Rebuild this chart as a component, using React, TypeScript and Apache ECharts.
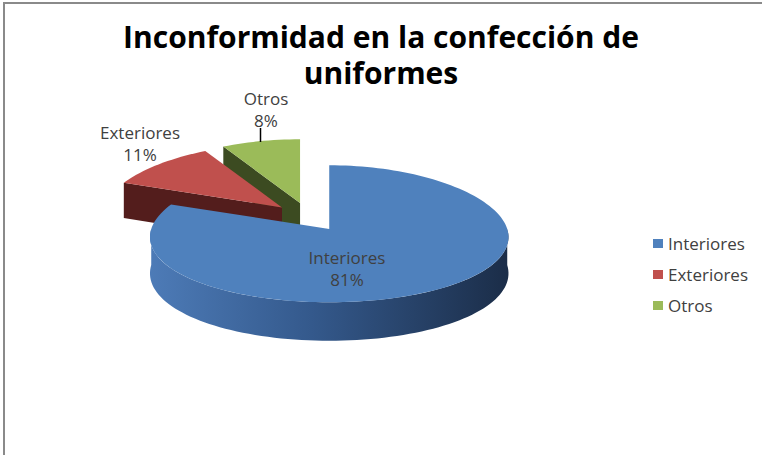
import React, { useEffect, useRef } from "react";
import * as echarts from "echarts";

// ---- data ----
const categories = ["Interiores", "Exteriores", "Otros"];
const percentages = [81, 11, 8];
const titleLines = ["Inconformidad en la confección de", "uniformes"];

// ---- styles / layout ----
const topColors = ["#4F81BD", "#C0504D", "#9BBB59"];
const sideColors: any[] = [
  new echarts.graphic.LinearGradient(0, 0, 1, 0, [
    { offset: 0, color: "#4D7BB7" },
    { offset: 0.45, color: "#34598C" },
    { offset: 1, color: "#1B2D48" },
  ]),
  "#531D1C",
  "#3C4B21",
];
const PIE = { cx: 309, cy: 217, rx: 178, ry: 68.5, perspY: 0.07, perspX: 0.12, h: 36, explodeX: 36, explodeY: 14.5 };
const LABEL_POS: Record<string, [number, number]> = {
  Interiores: [347, 268],
  Exteriores: [140, 143],
  Otros: [266, 109],
};
const FONT = "'Open Sans', sans-serif";

const total = percentages.reduce((a, b) => a + b, 0);

function rim(ax: number, ay: number, th: number, dy = 0): number[] {
  const c = Math.cos(th);
  const s = Math.sin(th);
  const fx = 1 - PIE.perspX * c;
  const fy = 1 - PIE.perspY * c;
  return [ax + s * PIE.rx * fx, ay - c * PIE.ry * fy + dy * fy];
}

function arcPts(ax: number, ay: number, a: number, b: number, dy = 0): number[][] {
  const n = Math.max(4, Math.ceil(((b - a) / (Math.PI * 2)) * 180));
  const pts: number[][] = [];
  for (let k = 0; k <= n; k++) pts.push(rim(ax, ay, a + ((b - a) * k) / n, dy));
  return pts;
}

function sliceAngles(i: number) {
  const before = percentages.slice(0, i).reduce((a, b) => a + b, 0);
  const start = (before / total) * Math.PI * 2;
  const end = ((before + percentages[i]) / total) * Math.PI * 2;
  return { start, end, mid: (start + end) / 2 };
}

function makeRenderItem(i: number) {
  return (params: any, api: any) => {
    const { start } = sliceAngles(i);
    const end = start + (api.value(0) / total) * Math.PI * 2;
    const mid = (start + end) / 2;
    const ax = PIE.cx + Math.sin(mid) * PIE.explodeX;
    const ay = PIE.cy - Math.cos(mid) * PIE.explodeY;
    const h = PIE.h;
    const children: any[] = [];
    const side = sideColors[i];
    const a = Math.max(start, Math.PI / 2);
    const b = Math.min(end, (Math.PI * 3) / 2);
    if (b > a) {
      const topArc = arcPts(ax, ay, a, b);
      const botArc = arcPts(ax, ay, a, b, h).reverse();
      children.push({ type: "polygon", z2: 1, shape: { points: topArc.concat(botArc) }, style: { fill: side } });
    }
    const radialFace = (th: number) => {
      const t = rim(ax, ay, th);
      const bt = rim(ax, ay, th, h);
      return {
        type: "polygon",
        z2: 2,
        shape: { points: [[ax, ay], t, bt, [ax, ay + h]] },
        style: { fill: typeof side === "string" ? side : "#2A4670" },
      };
    };
    if (Math.sin(start) < -1e-6) children.push(radialFace(start));
    if (Math.sin(end) > 1e-6) children.push(radialFace(end));
    const top = [[ax, ay]].concat(arcPts(ax, ay, start, end));
    children.push({ type: "polygon", z2: 3, shape: { points: top }, style: { fill: topColors[i] } });
    return { type: "group", children };
  };
}

const depth = categories.map((_, i) => -Math.cos(sliceAngles(i).mid));
const ranks = depth.map((d) => depth.filter((x) => x < d).length);

export default function App() {
  const ref = useRef<HTMLDivElement>(null);
  useEffect(() => {
    if (!ref.current) return;
    const chart = echarts.init(ref.current, undefined, { renderer: "svg" });
    const series = categories.map((name, i) => ({
      type: "custom",
      name,
      coordinateSystem: "none",
      z: 2 + ranks[i],
      color: topColors[i],
      data: [[percentages[i]]],
      renderItem: makeRenderItem(i),
      silent: true,
    }));
    const labelStyle = (text: string) => ({
      text,
      fill: "#404040",
      font: `17px ${FONT}`,
      lineHeight: 21,
      align: "center",
      verticalAlign: "middle",
    });
    const labels: any[] = [];
    categories.forEach((name, i) => {
      const [x, y] = LABEL_POS[name];
      labels.push({ type: "text", x, y: y - 10.5, z: 20, style: labelStyle(name) });
      labels.push({ type: "text", x, y: y + 11, z: 20, style: labelStyle(`${percentages[i]}%`) });
    });
    chart.setOption({
      animation: false,
      backgroundColor: "#fff",
      title: {
        text: titleLines[0],
        subtext: titleLines[1],
        left: "center",
        top: 18,
        padding: 0,
        itemGap: 0,
        textStyle: { fontFamily: FONT, fontSize: 30, fontWeight: "bold", color: "#000", lineHeight: 36 },
        subtextStyle: { fontFamily: FONT, fontSize: 30, fontWeight: "bold", color: "#000", lineHeight: 36 },
      },
      legend: {
        data: categories,
        orient: "vertical",
        left: 648,
        top: 228,
        icon: "rect",
        itemWidth: 10,
        itemHeight: 9,
        itemGap: 10,
        textStyle: { fontFamily: FONT, fontSize: 17, color: "#404040", lineHeight: 21 },
        selectedMode: false,
      },
      series,
      graphic: [
        {
          type: "rect",
          z: 0,
          shape: { x: 4, y: 3, width: 820, height: 520 },
          style: { fill: "none", stroke: "#8a8a8a", lineWidth: 2 },
        },
        ...labels,
        {
          type: "line",
          z: 20,
          shape: { x1: 260.5, y1: 128, x2: 260.5, y2: 142 },
          style: { stroke: "#000", lineWidth: 1.5 },
        },
      ],
    });
    return () => chart.dispose();
  }, []);
  return <div ref={ref} style={{ position: "fixed", left: 0, top: 0, width: 762, height: 455 }} />;
}
